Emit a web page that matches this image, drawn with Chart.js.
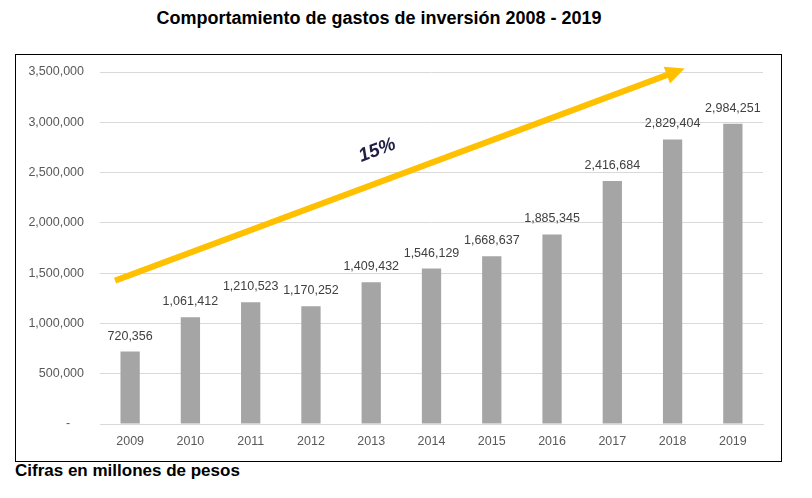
<!DOCTYPE html>
<html><head><meta charset="utf-8">
<script src="https://cdn.jsdelivr.net/npm/chart.js@4.4.1/dist/chart.umd.min.js"></script>
<style>
html,body{margin:0;padding:0;background:#fff;width:812px;height:498px;overflow:hidden;font-family:"Liberation Sans",Arial,sans-serif;}
#title{position:absolute;left:0;top:8px;width:758px;text-align:center;font-weight:bold;font-size:18px;color:#000;}
#box{position:absolute;left:15px;top:54px;width:765px;height:406px;border:1.5px solid #000;}
#footer{position:absolute;left:15px;top:461px;font-weight:bold;font-size:17px;color:#000;}
canvas{display:block;}
</style></head>
<body>
<div id="title">Comportamiento de gastos de inversión 2008 - 2019</div>
<div id="box"><canvas id="c" width="765" height="406" style="width:765px;height:406px"></canvas></div>
<div id="footer">Cifras en millones de pesos</div>
<script>
const categories = ['2009','2010','2011','2012','2013','2014','2015','2016','2017','2018','2019'];
const gastos = [720356,1061412,1210523,1170252,1409432,1546129,1668637,1885345,2416684,2829404,2984251];
const yTicks = [0,500000,1000000,1500000,2000000,2500000,3000000,3500000];
const growthLabel = '15%';
// arrow endpoints in data space: [category index, value]
const arrowStart = [-0.25, 1425000];
const arrowEnd = [9.2, 3535000];

const fmt = v => v.toLocaleString('en-US');

const labelsPlugin = {
  id: 'barLabels',
  afterDatasetsDraw(chart) {
    const ctx = chart.ctx;
    const meta = chart.getDatasetMeta(0);
    ctx.save();
    ctx.font = '12.5px "Liberation Sans", Arial, sans-serif';
    ctx.fillStyle = '#404040';
    ctx.textAlign = 'center';
    ctx.textBaseline = 'alphabetic';
    meta.data.forEach((bar, i) => {
      ctx.fillText(fmt(gastos[i]), bar.x, bar.y - 12);
    });
    ctx.restore();
  }
};

const arrowPlugin = {
  id: 'arrow',
  afterDraw(chart) {
    const xs = chart.scales.x, ys = chart.scales.y;
    const x0 = xs.getPixelForValue(arrowStart[0]), y0 = ys.getPixelForValue(arrowStart[1]);
    const x1 = xs.getPixelForValue(arrowEnd[0]), y1 = ys.getPixelForValue(arrowEnd[1]);
    const ang = Math.atan2(y1 - y0, x1 - x0);
    const headLen = 19, headW = 9;
    const bx = x1 - headLen * Math.cos(ang), by = y1 - headLen * Math.sin(ang);
    const ctx = chart.ctx;
    ctx.save();
    ctx.strokeStyle = '#FFC000';
    ctx.fillStyle = '#FFC000';
    ctx.lineWidth = 6;
    ctx.beginPath();
    ctx.moveTo(x0, y0);
    ctx.lineTo(bx + 2 * Math.cos(ang), by + 2 * Math.sin(ang));
    ctx.stroke();
    ctx.beginPath();
    ctx.moveTo(x1, y1);
    ctx.lineTo(bx + headW * Math.sin(ang), by - headW * Math.cos(ang));
    ctx.lineTo(bx - headW * Math.sin(ang), by + headW * Math.cos(ang));
    ctx.closePath();
    ctx.fill();
    // label
    const tx = xs.getPixelForValue(4.1), ty = ys.getPixelForValue(2720000);
    ctx.translate(tx, ty);
    ctx.rotate(ang);
    ctx.font = 'italic bold 19px "Liberation Sans", Arial, sans-serif';
    ctx.fillStyle = '#1F2044';
    ctx.textAlign = 'center';
    ctx.textBaseline = 'middle';
    ctx.fillText(growthLabel, 0, 0);
    ctx.restore();
  }
};

new Chart(document.getElementById('c'), {
  type: 'bar',
  data: {
    labels: categories,
    datasets: [{
      data: gastos,
      backgroundColor: '#A5A5A5',
      barPercentage: 0.8,
      categoryPercentage: 0.4
    }]
  },
  options: {
    responsive: false,
    maintainAspectRatio: false,
    animation: false,
    events: [],
    layout: { padding: { left: 0, right: 18, top: 17, bottom: 0 } },
    plugins: { legend: { display: false }, tooltip: { enabled: false }, title: { display: false } },
    scales: {
      x: {
        grid: { display: false, drawTicks: false },
        border: { display: true, color: '#D9D9D9', width: 1 },
        ticks: { color: '#595959', font: { size: 12.5, family: '"Liberation Sans", Arial, sans-serif' }, padding: 10 },
        afterFit(s) { s.height = 37; }
      },
      y: {
        min: 0, max: 3500000,
        afterBuildTicks(s) { s.ticks = yTicks.map(v => ({ value: v })); },
        grid: { color: '#D9D9D9', drawTicks: false },
        border: { display: false },
        ticks: {
          color: '#595959',
          font: { size: 12.5, family: '"Liberation Sans", Arial, sans-serif' },
          padding: 16,
          callback: v => v === 0 ? '-    ' : fmt(v)
        },
        afterFit(s) { s.width = 84; s.paddingTop = 0; s.paddingBottom = 0; }
      }
    }
  },
  plugins: [labelsPlugin, arrowPlugin]
});
</script>
</body></html>
